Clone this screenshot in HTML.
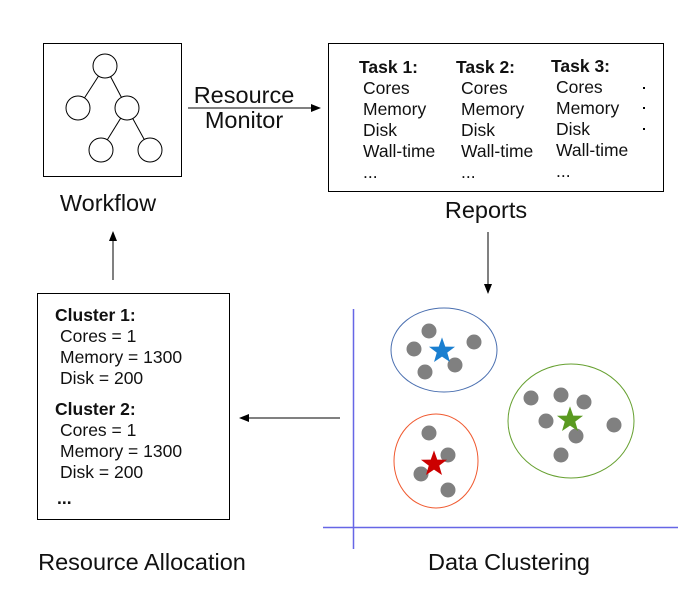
<!DOCTYPE html>
<html><head><style>
body{margin:0;background:#fff}
svg text{font-family:"Liberation Sans",sans-serif;fill:#111}
</style></head><body>
<svg width="691" height="603" viewBox="0 0 691 603" xmlns="http://www.w3.org/2000/svg">
<defs><marker id="a" markerWidth="10" markerHeight="8" refX="9" refY="4" orient="auto" markerUnits="userSpaceOnUse"><path d="M0,0 L10,4 L0,8 Z" fill="#000"/></marker></defs>
<!-- workflow -->
<rect x="43.5" y="43.5" width="138" height="133" fill="none" stroke="#000"/>
<g stroke="#000" fill="#fff" stroke-width="1">
<line x1="105" y1="66" x2="78" y2="108"/><line x1="105" y1="66" x2="127" y2="108"/>
<line x1="127" y1="108" x2="101" y2="150"/><line x1="127" y1="108" x2="150" y2="150"/>
<circle cx="105" cy="66" r="12"/><circle cx="78" cy="108" r="12"/><circle cx="127" cy="108" r="12"/><circle cx="101" cy="150" r="12"/><circle cx="150" cy="150" r="12"/>
</g>
<text x="108" y="211" font-size="23.5" text-anchor="middle">Workflow</text>
<text x="244" y="103" font-size="23.5" text-anchor="middle">Resource</text>
<text x="244" y="128" font-size="23.5" text-anchor="middle">Monitor</text>
<line x1="188" y1="108" x2="320" y2="108" stroke="#000" marker-end="url(#a)"/>
<!-- reports -->
<rect x="328.5" y="43.5" width="335" height="148" fill="none" stroke="#000"/>
<g font-size="17.5">
<text x="359" y="73" font-weight="bold">Task 1:</text>
<text x="363" y="94">Cores</text><text x="363" y="115">Memory</text><text x="363" y="136">Disk</text><text x="363" y="157">Wall-time</text><text x="363" y="178">...</text>
<text x="456" y="73" font-weight="bold">Task 2:</text>
<text x="461" y="94">Cores</text><text x="461" y="115">Memory</text><text x="461" y="136">Disk</text><text x="461" y="157">Wall-time</text><text x="461" y="178">...</text>
<text x="551" y="72" font-weight="bold">Task 3:</text>
<text x="556" y="93">Cores</text><text x="556" y="114">Memory</text><text x="556" y="135">Disk</text><text x="556" y="156">Wall-time</text><text x="556" y="177">...</text>
</g>
<rect x="643" y="87" width="2" height="2" fill="#000"/><rect x="643" y="107" width="2" height="2" fill="#000"/><rect x="643" y="128" width="2" height="2" fill="#000"/>
<text x="486" y="218" font-size="23.5" text-anchor="middle">Reports</text>
<line x1="488" y1="232" x2="488" y2="293" stroke="#000" marker-end="url(#a)"/>
<!-- clustering -->
<line x1="353.5" y1="309" x2="353.5" y2="549" stroke="#6666e6" stroke-width="1.5"/>
<line x1="323" y1="527.5" x2="678" y2="527.5" stroke="#6666e6" stroke-width="1.5"/>
<ellipse cx="444" cy="350" rx="53" ry="42" fill="none" stroke="#4a6fb0"/>
<ellipse cx="436" cy="461" rx="42" ry="47" fill="none" stroke="#f05a30"/>
<ellipse cx="571" cy="421" rx="63" ry="57" fill="none" stroke="#66a030"/>
<g fill="#808080">
<circle cx="429" cy="331" r="7.5"/><circle cx="414" cy="349" r="7.5"/><circle cx="474" cy="342" r="7.5"/><circle cx="455" cy="365" r="7.5"/><circle cx="425" cy="372" r="7.5"/>
<circle cx="429" cy="433" r="7.5"/><circle cx="448" cy="455" r="7.5"/><circle cx="421" cy="474" r="7.5"/><circle cx="448" cy="490" r="7.5"/>
<circle cx="531" cy="398" r="7.5"/><circle cx="561" cy="395" r="7.5"/><circle cx="584" cy="402" r="7.5"/><circle cx="546" cy="421" r="7.5"/><circle cx="614" cy="425" r="7.5"/><circle cx="576" cy="436" r="7.5"/><circle cx="561" cy="455" r="7.5"/>
</g>
<path transform="translate(442,351) scale(1.05)" fill="#1a7fd0" d="M0,-13 L3.1,-4.2 L12.4,-4 L5,1.6 L7.6,10.5 L0,5.3 L-7.6,10.5 L-5,1.6 L-12.4,-4 L-3.1,-4.2 Z"/>
<path transform="translate(434,464) scale(1.05)" fill="#cc0000" d="M0,-13 L3.1,-4.2 L12.4,-4 L5,1.6 L7.6,10.5 L0,5.3 L-7.6,10.5 L-5,1.6 L-12.4,-4 L-3.1,-4.2 Z"/>
<path transform="translate(570,420) scale(1.05)" fill="#5a9a20" d="M0,-13 L3.1,-4.2 L12.4,-4 L5,1.6 L7.6,10.5 L0,5.3 L-7.6,10.5 L-5,1.6 L-12.4,-4 L-3.1,-4.2 Z"/>
<text x="509" y="570" font-size="23.5" text-anchor="middle">Data Clustering</text>
<line x1="340" y1="418" x2="240" y2="418" stroke="#000" marker-end="url(#a)"/>
<!-- allocation -->
<rect x="37.5" y="293.5" width="192" height="226" fill="none" stroke="#000"/>
<g font-size="17.5">
<text x="55" y="321" font-weight="bold">Cluster 1:</text>
<text x="60" y="342">Cores = 1</text><text x="60" y="363">Memory = 1300</text><text x="60" y="384">Disk = 200</text>
<text x="55" y="415" font-weight="bold">Cluster 2:</text>
<text x="60" y="436">Cores = 1</text><text x="60" y="457">Memory = 1300</text><text x="60" y="478">Disk = 200</text>
<text x="57" y="504" font-weight="bold">...</text>
</g>
<text x="142" y="570" font-size="23.5" text-anchor="middle">Resource Allocation</text>
<line x1="113" y1="280" x2="113" y2="232" stroke="#000" marker-end="url(#a)"/>
</svg>
</body></html>
